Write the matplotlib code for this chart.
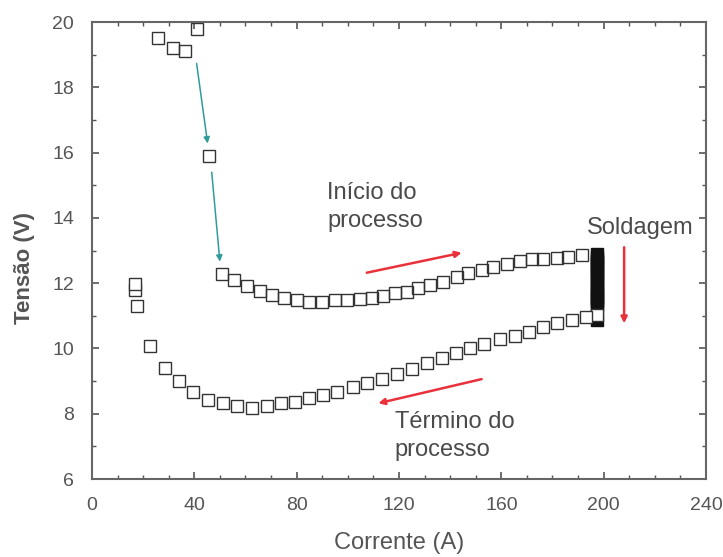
import matplotlib
matplotlib.use("Agg")
import matplotlib.pyplot as plt
from matplotlib.ticker import MultipleLocator

plt.rcParams["font.family"] = ["Liberation Sans", "DejaVu Sans"]

# partida do arco (queda inicial de tensão)
start_i = [26.0, 31.5, 36.4, 40.9, 45.9]
start_v = [19.50, 19.20, 19.10, 19.78, 15.90]

# ramo superior: subida de corrente
up_i = [50.7, 55.6, 60.7, 65.7, 70.2, 75.0, 80.0, 84.9, 89.8, 95.0, 99.5, 104.8,
        109.3, 113.9, 118.4, 123.0, 127.5, 132.1, 137.3, 142.6, 147.1, 152.3,
        156.9, 162.1, 167.2, 171.9, 176.4, 181.6, 186.2, 191.4]
up_v = [12.27, 12.10, 11.91, 11.76, 11.64, 11.54, 11.49, 11.43, 11.43, 11.49,
        11.49, 11.52, 11.55, 11.62, 11.69, 11.74, 11.84, 11.94, 12.05, 12.20,
        12.30, 12.40, 12.50, 12.60, 12.69, 12.73, 12.73, 12.76, 12.81, 12.86]

# soldagem em corrente constante (~198 A)
weld_i = [197.4] * 20
weld_v = [12.88, 12.80, 12.72, 12.64, 12.56, 12.47, 12.38, 12.29, 12.20, 12.11,
          11.98, 11.89, 11.80, 11.71, 11.62, 11.53, 11.44, 11.35, 11.26, 10.86]

# ramo inferior: descida de corrente
down_i = [197.3, 193.1, 187.5, 181.9, 176.4, 170.9, 165.4, 159.5, 153.2, 147.8,
          142.3, 136.7, 130.8, 125.0, 119.1, 113.2, 107.6, 102.1, 95.6, 90.4,
          84.9, 79.4, 73.9, 68.3, 62.4, 56.6, 51.1, 45.5, 39.6, 34.0, 28.5,
          22.7, 17.7, 16.8, 16.8]
down_v = [11.03, 10.97, 10.87, 10.79, 10.67, 10.51, 10.38, 10.28, 10.14, 10.00,
          9.85, 9.70, 9.55, 9.37, 9.22, 9.05, 8.95, 8.83, 8.68, 8.57, 8.47,
          8.37, 8.32, 8.24, 8.19, 8.24, 8.32, 8.42, 8.66, 9.00, 9.39, 10.09,
          11.31, 11.79, 11.97]

fig = plt.figure(figsize=(7.23, 5.57), dpi=100)
ax = fig.add_axes([0.1272, 0.140, 0.8493, 0.8205])

mk = dict(marker="s", linestyle="none", markersize=8, markerfacecolor="none",
          markeredgecolor="#333333", markeredgewidth=1.0)
ax.plot(start_i, start_v, **mk)
ax.plot(up_i, up_v, **mk)
ax.plot(weld_i, weld_v, marker="s", linestyle="none", markersize=8,
        markerfacecolor="#111111", markeredgecolor="#111111", markeredgewidth=1.0)
ax.plot(down_i, down_v, marker="s", linestyle="none", markersize=8,
        markerfacecolor="white", markeredgecolor="#333333", markeredgewidth=1.0)

# setas
teal = "#2f9c9a"
red = "#e8313a"
def seta(x0, y0, x1, y1, cor, lw):
    ax.annotate("", xy=(x1, y1), xytext=(x0, y0),
                arrowprops=dict(arrowstyle="-|>", color=cor, lw=lw,
                                mutation_scale=9, shrinkA=0, shrinkB=0))

seta(40.9, 18.73, 45.2, 16.28, teal, 1.1)
seta(46.8, 15.40, 50.0, 12.66, teal, 1.1)
seta(107.4, 12.32, 144.5, 12.93, red, 1.8)
seta(208.0, 13.10, 208.0, 10.77, red, 1.8)
seta(152.3, 9.06, 111.9, 8.32, red, 1.8)

txt = "#4a4a4a"
ax.text(91.9, 14.33, "Início do\nprocesso", fontsize=17, color=txt,
        va="center", ha="left", linespacing=1.35)
ax.text(193.5, 13.68, "Soldagem", fontsize=17, color=txt, va="center", ha="left")
ax.text(118.4, 7.32, "Término do\nprocesso", fontsize=17, color=txt,
        va="center", ha="left", linespacing=1.35)

ax.set_xlim(0, 240)
ax.set_ylim(6, 20)
ax.xaxis.set_major_locator(MultipleLocator(40))
ax.xaxis.set_minor_locator(MultipleLocator(10))
ax.yaxis.set_major_locator(MultipleLocator(2))
ax.yaxis.set_minor_locator(MultipleLocator(1))
ax.tick_params(which="both", direction="in", top=True, right=True,
               color="#555555", labelcolor="#555555", labelsize=14)
ax.tick_params(which="major", length=5, width=1.2, pad=13)
ax.tick_params(which="minor", length=3, width=1.0)
for s in ax.spines.values():
    s.set_color("#666666")
    s.set_linewidth(1.5)

ax.set_xlabel("Corrente (A)", fontsize=17, color="#555555")
ax.set_ylabel("Tensão (V)", fontsize=16, color="#555555", fontweight="bold")
ax.xaxis.set_label_coords(0.5, -0.115)
ax.yaxis.set_label_coords(-0.093, 0.462)

fig.savefig("out.png", dpi=100)
